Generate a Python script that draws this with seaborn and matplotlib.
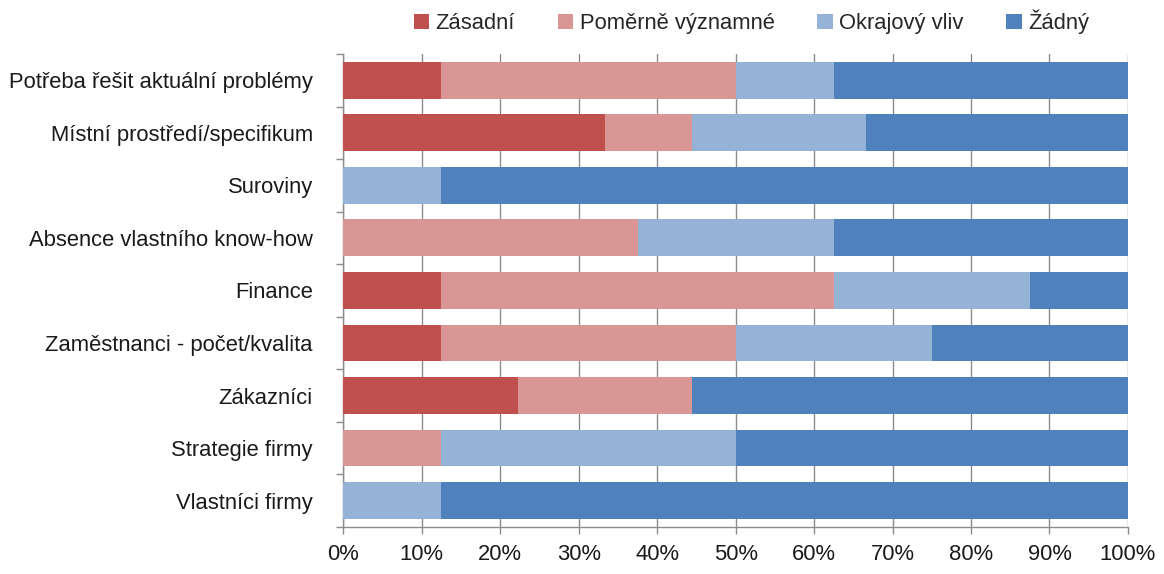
import numpy as np
import pandas as pd
import matplotlib
matplotlib.use("Agg")
import matplotlib.pyplot as plt
import seaborn as sns
from matplotlib.patches import Patch
from matplotlib.ticker import FixedLocator, PercentFormatter

categories = [
    "Potřeba řešit aktuální problémy",
    "Místní prostředí/specifikum",
    "Suroviny",
    "Absence vlastního know-how",
    "Finance",
    "Zaměstnanci - počet/kvalita",
    "Zákazníci",
    "Strategie firmy",
    "Vlastníci firmy",
]
series = ["Zásadní", "Poměrně významné", "Okrajový vliv", "Žádný"]

zasadni = [12.5, 33.3, 0.0, 0.0, 12.5, 12.5, 22.2, 0.0, 0.0]
pomerne = [37.5, 11.1, 0.0, 37.5, 50.0, 37.5, 22.2, 12.5, 0.0]
okrajovy = [12.5, 22.2, 12.5, 25.0, 25.0, 25.0, 0.0, 37.5, 12.5]
zadny = [37.5, 33.4, 87.5, 37.5, 12.5, 25.0, 55.6, 50.0, 87.5]

colors = ["#C0504D", "#D99694", "#95B3D7", "#4F81BD"]

sns.set_theme(style="white")
plt.rcParams["font.family"] = ["Liberation Sans", "DejaVu Sans"]

df = pd.DataFrame({"kategorie": categories, series[0]: zasadni, series[1]: pomerne,
                   series[2]: okrajovy, series[3]: zadny})
cum = df[series].cumsum(axis=1)
cum["kategorie"] = df["kategorie"]

fig, ax = plt.subplots(figsize=(11.64, 5.74), dpi=100)
fig.subplots_adjust(left=0.295, right=0.969, top=0.906, bottom=0.082)

# Stacked bars: draw the cumulative totals from the outermost layer inward
for name, col in reversed(list(zip(series, colors))):
    sns.barplot(data=cum, x=name, y="kategorie", orient="h", color=col, width=0.7,
                saturation=1, linewidth=0, edgecolor="none", ax=ax, zorder=3)

ax.set_xlim(0, 100)
ax.set_ylim(len(categories) - 0.5, -0.5)
ax.xaxis.set_major_locator(FixedLocator(np.arange(0, 101, 10)))
ax.xaxis.set_major_formatter(PercentFormatter(decimals=0))
ax.set_xlabel("")
ax.set_ylabel("")

ax.grid(axis="x", color="#8c8c8c", linewidth=1, zorder=0)
ax.grid(axis="y", visible=False)
ax.set_axisbelow(True)
for side in ["top", "right"]:
    ax.spines[side].set_visible(False)
for side in ["left", "bottom"]:
    ax.spines[side].set_color("#8c8c8c")
    ax.spines[side].set_linewidth(1)

fs = 15.8
ax.tick_params(axis="x", which="major", bottom=True, length=5, width=1,
               color="#8c8c8c", labelsize=fs, labelcolor="#1a1a1a", pad=7)
ax.tick_params(axis="y", which="major", left=False, labelsize=fs,
               labelcolor="#1a1a1a", pad=16)
ax.yaxis.set_minor_locator(FixedLocator(np.arange(-0.5, len(categories), 1.0)))
ax.tick_params(axis="y", which="minor", left=True, length=5, width=1, color="#8c8c8c")

handles = [Patch(facecolor=c, edgecolor="none", label=s) for s, c in zip(series, colors)]
fig.legend(handles=handles, loc="upper center", bbox_to_anchor=(0.6456, 1.018), ncol=4,
           frameon=False, fontsize=fs, handlelength=0.7, handleheight=0.7,
           handletextpad=0.3, columnspacing=1.95)

fig.savefig("out.png", dpi=100)
